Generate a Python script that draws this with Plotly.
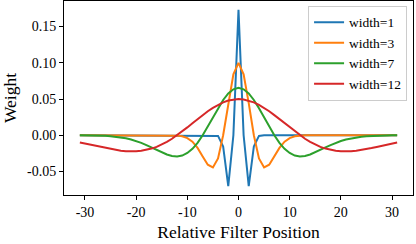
import plotly.graph_objects as go

positions = list(range(-31, 32))

# one-sided values for t = 0..31 (symmetric filters)
w1_half = [0.173, 0.0, -0.0702, -0.0154, -0.0009, 0.0, 0.0, 0.0, 0.0, 0.0, 0.0, 0.0,
           0.0, 0.0, 0.0, 0.0, 0.0, 0.0, 0.0, 0.0, 0.0, 0.0, 0.0, 0.0, 0.0, 0.0,
           0.0, 0.0, 0.0, 0.0, 0.0, 0.0]
w3_half = [0.0999, 0.0840, 0.0444, 0.0, -0.0319, -0.0443, -0.0406, -0.0292, -0.0174,
           -0.0089, -0.0039, -0.0015, -0.0005, -0.00015, 0.0, 0.0, 0.0, 0.0, 0.0, 0.0,
           0.0, 0.0, 0.0, 0.0, 0.0, 0.0, 0.0, 0.0, 0.0, 0.0, 0.0, 0.0]
w7_half = [0.0654, 0.0634, 0.0577, 0.0487, 0.0374, 0.0248, 0.0120, 0.0, -0.0104, -0.0187,
           -0.0245, -0.0280, -0.0292, -0.0285, -0.0265, -0.0236, -0.0203, -0.0168, -0.0135,
           -0.0105, -0.0079, -0.0058, -0.0042, -0.0029, -0.0020, -0.0013, -0.0008, -0.0005,
           -0.0003, -0.0002, -0.0001, -0.0001]
w12_half = [0.0499, 0.0494, 0.0479, 0.0454, 0.0420, 0.0378, 0.0331, 0.0278, 0.0222, 0.0165,
            0.0108, 0.0052, 0.0, -0.0048, -0.0091, -0.0129, -0.0160, -0.0184, -0.0203,
            -0.0215, -0.0221, -0.0223, -0.0220, -0.0213, -0.0203, -0.0190, -0.0176, -0.0161,
            -0.0146, -0.0130, -0.0115, -0.0101]

def full(half):
    return half[:0:-1] + half

series_names = ["width=1", "width=3", "width=7", "width=12"]
series_values = [full(w1_half), full(w3_half), full(w7_half), full(w12_half)]
colors = ["#1f77b4", "#ff7f0e", "#2ca02c", "#d62728"]

x_tickvals = [-30, -20, -10, 0, 10, 20, 30]
x_ticktext = ["-30", "-20", "-10", "0", "10", "20", "30"]
y_tickvals = [-0.05, 0.0, 0.05, 0.10, 0.15]
y_ticktext = ["-0.05", "0.00", "0.05", "0.10", "0.15"]

font_family = "Liberation Serif"

fig = go.Figure()
for name, vals, c in zip(series_names, series_values, colors):
    fig.add_trace(go.Scatter(x=positions, y=vals, mode="lines", name=name,
                             line=dict(color=c, width=2)))

axis_common = dict(showgrid=False, zeroline=False, showline=True, linecolor="black",
                   linewidth=1, mirror=True, ticks="outside", ticklen=4, tickwidth=1,
                   tickcolor="black", automargin=False,
                   tickfont=dict(family=font_family, size=14, color="black"))

fig.update_layout(
    width=416, height=244,
    margin=dict(l=64, r=3, t=1, b=49),
    paper_bgcolor="white", plot_bgcolor="white",
    font=dict(family=font_family, color="black"),
    xaxis=dict(range=[-34.1, 34.1], tickvals=x_tickvals, ticktext=x_ticktext,
               title=dict(text="Relative Filter Position",
                          font=dict(family=font_family, size=17.5), standoff=6),
               **axis_common),
    yaxis=dict(range=[-0.0824, 0.1852], tickvals=y_tickvals, ticktext=y_ticktext,
               title=dict(text="Weight", font=dict(family=font_family, size=17.5), standoff=8),
               **axis_common),
    legend=dict(x=0.983, y=0.975, xanchor="right", yanchor="top",
                bgcolor="rgba(255,255,255,0.8)", bordercolor="#cccccc", borderwidth=1,
                font=dict(family=font_family, size=13.5), itemwidth=30,
                tracegroupgap=0),
    showlegend=True,
)

fig.write_html("out.html", config={"displayModeBar": False},
               post_script="document.body.style.margin='0';document.body.style.padding='0';")
